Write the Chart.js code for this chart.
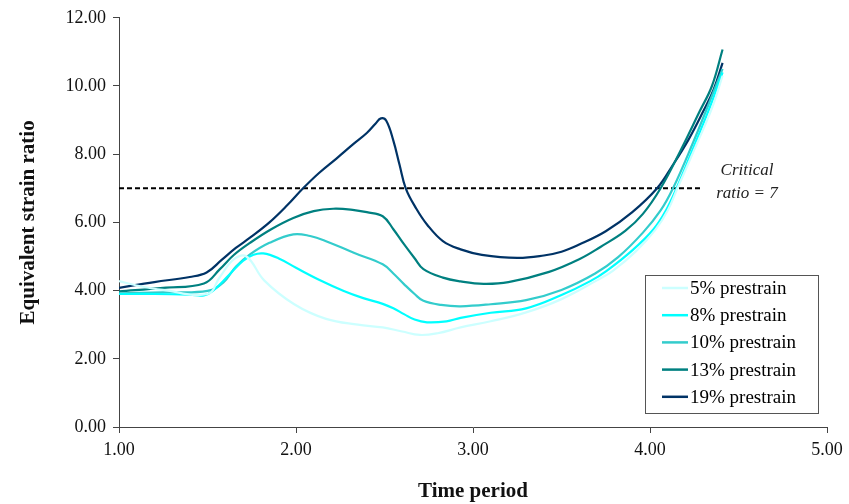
<!DOCTYPE html>
<html>
<head>
<meta charset="utf-8">
<script src="https://cdn.jsdelivr.net/npm/chart.js@4/dist/chart.umd.min.js"></script>
<style>
html,body{margin:0;padding:0;background:#fff;}
#wrap{width:849px;height:504px;position:relative;}
</style>
</head>
<body>
<div id="wrap"><canvas id="c" width="849" height="504"></canvas></div>
<script>
const seriesLabels = ["5% prestrain","8% prestrain","10% prestrain","13% prestrain","19% prestrain"];
const seriesColors = ["#ccffff","#00ffff","#33cccc","#008080","#003366"];

const s5 = [[1.00,4.28],[1.10,4.15],[1.25,4.02],[1.50,3.90],[1.57,4.40],[1.65,4.92],[1.72,5.00],[1.82,4.30],[1.99,3.60],[2.17,3.17],[2.35,3.00],[2.49,2.92],[2.60,2.80],[2.70,2.70],[2.80,2.75],[2.93,2.92],[3.10,3.10],[3.30,3.36],[3.50,3.75],[3.70,4.30],[3.79,4.58],[3.92,5.15],[4.03,5.78],[4.10,6.35],[4.155,7.00],[4.26,8.25],[4.35,9.35],[4.41,10.30]];
const s8 = [[1.00,3.90],[1.20,3.90],[1.40,3.88],[1.48,3.86],[1.53,3.99],[1.62,4.45],[1.70,4.87],[1.76,5.05],[1.815,5.09],[1.90,4.95],[2.00,4.67],[2.13,4.32],[2.27,3.99],[2.38,3.78],[2.49,3.61],[2.55,3.48],[2.61,3.31],[2.67,3.15],[2.74,3.07],[2.85,3.10],[2.93,3.20],[3.10,3.35],[3.30,3.48],[3.50,3.87],[3.66,4.27],[3.755,4.58],[3.90,5.18],[4.02,5.80],[4.09,6.35],[4.15,7.00],[4.25,8.25],[4.34,9.40],[4.41,10.40]];
const s10 = [[1.00,3.92],[1.25,3.95],[1.50,3.99],[1.59,4.24],[1.66,4.70],[1.74,5.06],[1.85,5.40],[1.985,5.65],[2.08,5.60],[2.17,5.45],[2.33,5.10],[2.49,4.77],[2.55,4.50],[2.61,4.19],[2.67,3.90],[2.72,3.70],[2.82,3.58],[2.93,3.54],[3.10,3.60],[3.30,3.72],[3.50,4.02],[3.69,4.50],[3.82,4.98],[3.96,5.70],[4.06,6.35],[4.13,7.00],[4.24,8.30],[4.33,9.45],[4.41,10.50]];
const s13 = [[1.00,3.98],[1.25,4.08],[1.48,4.21],[1.57,4.63],[1.65,5.05],[1.74,5.40],[1.86,5.80],[1.985,6.13],[2.10,6.33],[2.21,6.40],[2.32,6.37],[2.40,6.30],[2.49,6.18],[2.55,5.80],[2.61,5.36],[2.67,4.95],[2.72,4.63],[2.83,4.38],[2.93,4.27],[3.06,4.20],[3.20,4.25],[3.43,4.55],[3.60,4.92],[3.72,5.28],[3.86,5.75],[3.96,6.25],[4.06,7.00],[4.17,8.08],[4.28,9.25],[4.35,10.00],[4.41,11.07]];
const s19 = [[1.00,4.08],[1.20,4.25],[1.40,4.40],[1.495,4.53],[1.58,4.90],[1.66,5.25],[1.74,5.55],[1.85,6.00],[1.95,6.50],[2.04,7.00],[2.13,7.45],[2.23,7.88],[2.32,8.28],[2.40,8.62],[2.45,8.90],[2.48,9.05],[2.51,8.98],[2.55,8.40],[2.585,7.69],[2.62,7.00],[2.68,6.40],[2.74,5.94],[2.83,5.45],[2.93,5.21],[3.05,5.05],[3.25,4.96],[3.40,5.03],[3.50,5.14],[3.60,5.35],[3.75,5.74],[3.90,6.30],[4.04,7.00],[4.13,7.69],[4.22,8.45],[4.30,9.25],[4.36,9.90],[4.41,10.68]];
const seriesData = [s5, s8, s10, s13, s19];

const criticalLine = [[1.00,7],[4.29,7]];
const criticalText = ["Critical","ratio = 7"];
const xTicks = [1,2,3,4,5];
const yTicks = [0,2,4,6,8,10,12];

const SERIF = "'Liberation Serif','Times New Roman',serif";

const datasets = seriesData.map((d,i)=>({
  label: seriesLabels[i],
  data: d.map(p=>({x:p[0],y:p[1]})),
  borderColor: seriesColors[i],
  backgroundColor: seriesColors[i],
  borderWidth: 2.2,
  pointRadius: 0,
  tension: 0.4,
  fill: false
}));
datasets.push({
  label: 'critical',
  data: criticalLine.map(p=>({x:p[0],y:p[1]})),
  borderColor: '#000',
  borderWidth: 2,
  borderDash: [5,3],
  pointRadius: 0,
  tension: 0,
  fill: false
});

const overlay = {
  id: 'overlay',
  afterDraw(chart){
    const ctx = chart.ctx;
    ctx.save();
    ctx.fillStyle = '#222';
    ctx.font = "italic 17px " + SERIF;
    ctx.textAlign = 'center';
    ctx.textBaseline = 'middle';
    ctx.fillText(criticalText[0], 747, 171);
    ctx.fillText(criticalText[1], 747, 194);
    ctx.restore();
    ctx.save();
    const bx = 645.5, by = 275.5, bw = 173, bh = 138;
    ctx.fillStyle = '#fff';
    ctx.fillRect(bx, by, bw, bh);
    ctx.strokeStyle = '#555';
    ctx.lineWidth = 1;
    ctx.strokeRect(bx, by, bw, bh);
    ctx.font = "19px " + SERIF;
    ctx.textBaseline = 'middle';
    ctx.textAlign = 'left';
    for (let i=0;i<seriesLabels.length;i++){
      const cy = 288 + i*27.2;
      ctx.strokeStyle = seriesColors[i];
      ctx.lineWidth = 2.5;
      ctx.beginPath();
      ctx.moveTo(662, cy);
      ctx.lineTo(688, cy);
      ctx.stroke();
      ctx.fillStyle = '#000';
      ctx.fillText(seriesLabels[i], 690, cy+1);
    }
    ctx.restore();
  }
};

new Chart(document.getElementById('c'), {
  type: 'line',
  data: { datasets },
  options: {
    responsive: false,
    animation: false,
    layout: { padding: { left: 0, top: 15, right: 22, bottom: 0 } },
    plugins: { legend: { display: false }, tooltip: { enabled: false } },
    scales: {
      x: {
        type: 'linear', min: 1, max: 5,
        afterBuildTicks(s){ s.ticks = xTicks.map(v=>({value:v})); },
        afterFit(s){ s.height = 77; },
        ticks: { callback: v=>v.toFixed(2), color:'#111', font:{family:SERIF,size:18}, padding: 6, maxRotation:0 },
        grid: { display: true, drawOnChartArea: false, drawTicks: true, tickLength: 6, color:'#444' },
        border: { display: true, color: '#444', width: 1 },
        title: { display: true, text: 'Time period', color:'#111', font:{family:SERIF,size:21,weight:'bold'}, padding:{top:10,bottom:0} }
      },
      y: {
        type: 'linear', min: 0, max: 12,
        afterBuildTicks(s){ s.ticks = yTicks.map(v=>({value:v})); },
        afterFit(s){ s.width = 119; },
        ticks: { callback: v=>v.toFixed(2), color:'#111', font:{family:SERIF,size:18}, padding: 7 },
        grid: { display: true, drawOnChartArea: false, drawTicks: true, tickLength: 6, color:'#444' },
        border: { display: true, color: '#444', width: 1 },
        title: { display: true, text: 'Equivalent strain ratio', color:'#111', font:{family:SERIF,size:21,weight:'bold'}, padding:{top:16,bottom:0} }
      }
    }
  },
  plugins: [overlay]
});
</script>
</body>
</html>
